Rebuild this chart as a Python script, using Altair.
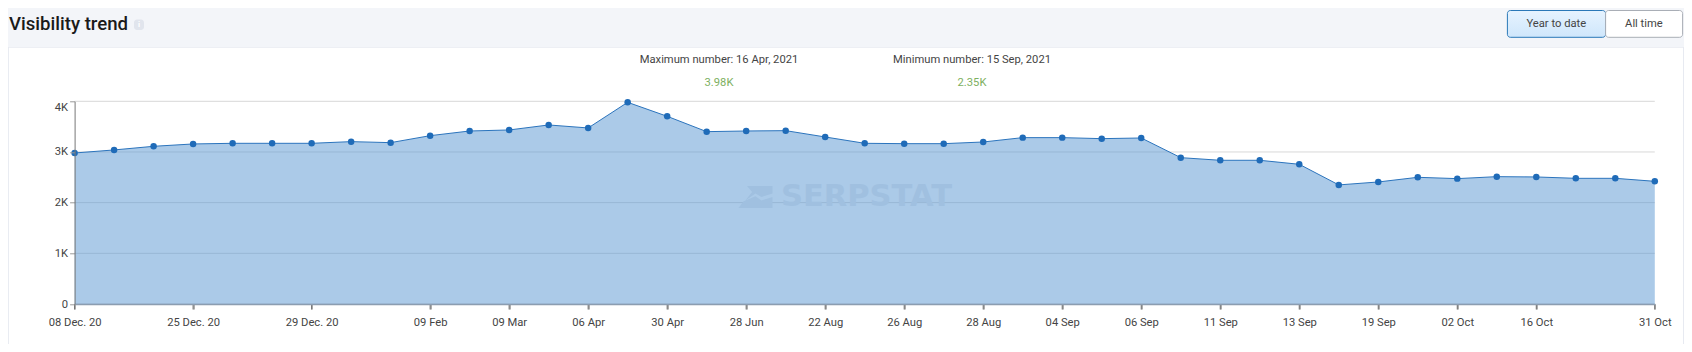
import altair as alt
import pandas as pd

values = [2980, 3040, 3112, 3158, 3171, 3171, 3171, 3204, 3184, 3322, 3414, 3434, 3533, 3474,
          3980, 3704, 3401, 3414, 3421, 3296, 3171, 3164, 3164, 3197, 3283, 3283, 3263, 3276,
          2888, 2836, 2836, 2757, 2350, 2408, 2500, 2474, 2513, 2507, 2480, 2480, 2421]
tick_index = [0, 3, 6, 9, 11, 13, 15, 17, 19, 21, 23, 25, 27, 29, 31, 33, 35, 37, 40]
tick_labels = ["08 Dec. 20", "25 Dec. 20", "29 Dec. 20", "09 Feb", "09 Mar", "06 Apr", "30 Apr",
               "28 Jun", "22 Aug", "26 Aug", "28 Aug", "04 Sep", "06 Sep", "11 Sep", "13 Sep",
               "19 Sep", "02 Oct", "16 Oct", "31 Oct"]
y_ticks = [0, 1000, 2000, 3000, 4000]

FONT = "Roboto"
LEFT, TOP = 74.6, 101.3
W, H = 1580.2, 202.7
PAGE = "#f3f5f9"
TEXT = "#444444"

df = pd.DataFrame({"i": list(range(len(values))), "v": values})
one = pd.DataFrame({"a": [0]})
grid_df = pd.DataFrame({"g": y_ticks})
tick_df = pd.DataFrame({"t": tick_index})

x_scale = alt.Scale(domain=[0, 40], nice=False, zero=False)
y_scale = alt.Scale(domain=[0, 4000], nice=False)


def box(x0, y0, x1, y1, **mark):
    return alt.Chart(one).mark_rect(**mark).encode(
        x=alt.value(x0 - LEFT), x2=alt.value(x1 - LEFT),
        y=alt.value(y0 - TOP), y2=alt.value(y1 - TOP))


def label(x, y, text, color=TEXT, size=11.2, align="center", weight=400, font=FONT, **kw):
    return alt.Chart(one).mark_text(text=text, color=color, fontSize=size, align=align,
                                    baseline="middle", fontWeight=weight, font=font, **kw).encode(
        x=alt.value(x - LEFT), y=alt.value(y - TOP))


label_map = "{" + ",".join(f"'{i}':'{t}'" for i, t in zip(tick_index, tick_labels)) + "}"

x_axis = alt.Axis(values=tick_index, labelExpr=f"{label_map}[datum.value]", title=None, grid=False,
                  ticks=True, tickSize=5, tickColor="#777777", domain=True, domainColor="#8c9db0",
                  domainWidth=1.5, labelPadding=7, labelFont=FONT, labelFontSize=11.2,
                  labelColor=TEXT, labelAngle=0, labelOverlap=False, labelFlush=False,
                  labelBound=False, zindex=1)
y_axis = alt.Axis(values=y_ticks, labelExpr="datum.value == 0 ? '0' : (datum.value / 1000) + 'K'",
                  title=None, grid=False, ticks=True, tickSize=5, tickColor="#999999", domain=True,
                  domainColor="#777777", labelPadding=2, labelFont=FONT, labelFontSize=11.2,
                  labelColor=TEXT, labelFlush=False, labelBound=False,
                  labelBaseline=alt.ConditionalAxisString(
                      condition={"test": "datum.value == 4000", "value": "top"}, value="middle"),
                  zindex=1)

shadow = box(7.5, 47, 1686, 352, fill="#e7eaf1")
card = box(8.9, 47.7, 1683, 352, fill="#ffffff")

btn_left = box(1507.4, 10.5, 1605.6, 37.3,
               fill=alt.Gradient(gradient="linear", x1=0, x2=0, y1=0, y2=1,
                                 stops=[alt.GradientStop(color="#e6f3ff", offset=0),
                                        alt.GradientStop(color="#cfe6fb", offset=1)]),
               stroke="#2a78b8", strokeWidth=1, cornerRadius=3)
btn_right = box(1605.6, 10.5, 1682.6, 37.3, fill="#ffffff", stroke="#a9aeb6", strokeWidth=1, cornerRadius=3)
info = box(134, 19.5, 144, 30, fill="#e1e5ed", cornerRadius=3)

grid = alt.Chart(grid_df).mark_rule(color="#d8d8d8", strokeWidth=1).encode(
    y=alt.Y("g:Q", scale=y_scale, axis=y_axis))

x_ticks = alt.Chart(tick_df).mark_rule(color="#666666", strokeWidth=1).encode(
    x=alt.X("t:Q", scale=x_scale, axis=x_axis),
    y=alt.value(H), y2=alt.value(H + 5.5))

area = alt.Chart(df).mark_area(color="#5795d1", opacity=0.5).encode(
    x=alt.X("i:Q", scale=x_scale, axis=x_axis),
    y=alt.Y("v:Q", scale=y_scale, axis=y_axis))
line = alt.Chart(df).mark_line(color="#2b74bd", strokeWidth=1).encode(
    x=alt.X("i:Q", scale=x_scale, axis=x_axis), y=alt.Y("v:Q", scale=y_scale, axis=y_axis))
dots = alt.Chart(df).mark_point(filled=True, color="#1f6bb8", opacity=1, size=42).encode(
    x=alt.X("i:Q", scale=x_scale, axis=x_axis), y=alt.Y("v:Q", scale=y_scale, axis=y_axis))

logo = alt.Chart(one).mark_point(
    filled=True, color="#a0c0e0", opacity=1, size=1156,
    shape="M -0.5 -0.65 L 1 -0.65 L 1 -0.2 L 0.35 0 L 0 -0.2 L -0.6 0.2 L -0.2 -0.3 Z "
          "M -1 0.65 L -0.7 0.25 L 0 -0.05 L 0.35 0.2 L 1 0 L 1 0.65 Z").encode(
    x=alt.value(755.5 - LEFT), y=alt.value(197 - TOP))

chart = alt.layer(
    shadow, card, btn_left, btn_right, info, grid, x_ticks, area, line, dots, logo,
    label(866.5, 197, "SERPSTAT", color="#a0c0e0", size=30.5, weight=700, font="DejaVu Sans"),
    label(9, 24, "Visibility trend", color="#1a1a1a", size=18.6, align="left", weight=500),
    label(139, 25, "i", color="#ffffff", size=8, weight=700),
    label(1556.3, 24, "Year to date"),
    label(1643.9, 24, "All time"),
    label(719, 60, "Maximum number: 16 Apr, 2021"),
    label(972, 60, "Minimum number: 15 Sep, 2021"),
    label(719, 83, "3.98K", color="#7db061"),
    label(972, 83, "2.35K", color="#7db061"),
).properties(
    width=W, height=H, background=PAGE,
    padding={"left": LEFT - 8, "top": TOP - 8, "right": 1684 - LEFT - W, "bottom": 344 - TOP - H},
    autosize=alt.AutoSizeParams(type="none"),
).configure_view(stroke=None)

chart.save("out.html", embed_options={"renderer": "svg", "actions": False})
